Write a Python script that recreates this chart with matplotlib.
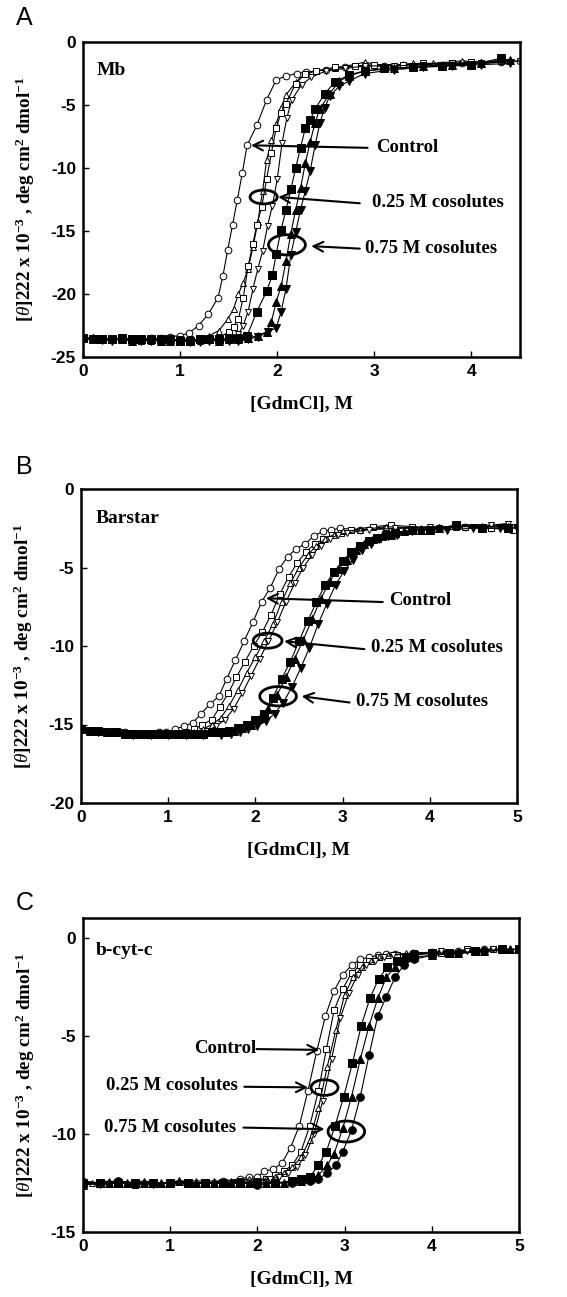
import matplotlib
matplotlib.use("Agg")
import matplotlib.pyplot as plt
from matplotlib.patches import Ellipse

plt.rcParams['font.family'] = ['Liberation Serif', 'DejaVu Serif']
plt.rcParams['mathtext.fontset'] = 'custom'
plt.rcParams['mathtext.rm'] = 'Liberation Serif:bold'
plt.rcParams['mathtext.it'] = 'Liberation Serif:italic'
plt.rcParams['mathtext.bf'] = 'Liberation Serif:bold'

# ---------------- Panel A : Mb ----------------
A_ctrl_x = [0.0,0.1,0.2,0.3,0.4,0.5,0.6,0.7,0.8,0.9,1.0,1.09,1.19,1.29,1.39,1.44,1.49,1.54,1.59,1.64,1.69,1.79,1.89,1.99,2.09,2.2,2.3,2.5,2.7,2.9,3.1,3.3,3.5,3.7,3.9,4.1,4.3,4.5]
A_ctrl_y = [-23.5,-23.5,-23.6,-23.6,-23.5,-23.6,-23.6,-23.5,-23.5,-23.4,-23.3,-23.1,-22.5,-21.6,-20.3,-18.6,-16.5,-14.5,-12.5,-10.4,-8.2,-6.6,-4.6,-3.0,-2.7,-2.5,-2.4,-2.2,-2.0,-1.9,-1.9,-1.8,-1.8,-1.8,-1.7,-1.7,-1.6,-1.5]
A_tu_x = [0.0,0.1,0.2,0.3,0.4,0.5,0.6,0.7,0.8,0.9,1.0,1.1,1.2,1.3,1.4,1.49,1.55,1.6,1.65,1.7,1.75,1.8,1.85,1.89,1.94,1.99,2.04,2.09,2.19,2.29,2.4,2.6,2.9,3.1,3.4,3.6,3.9,4.1,4.4]
A_tu_y = [-23.5,-23.6,-23.5,-23.6,-23.6,-23.5,-23.6,-23.6,-23.6,-23.7,-23.6,-23.6,-23.7,-23.3,-22.9,-22.0,-21.2,-20.0,-19.1,-18.0,-16.3,-14.3,-11.8,-9.4,-7.8,-6.5,-5.2,-4.2,-3.2,-2.5,-2.3,-2.1,-1.6,-1.9,-1.7,-1.7,-1.5,-1.6,-1.4]
A_sq_x = [0.0,0.1,0.2,0.3,0.4,0.5,0.6,0.7,0.8,0.9,1.0,1.1,1.2,1.3,1.4,1.5,1.55,1.6,1.65,1.7,1.75,1.79,1.84,1.89,1.94,1.99,2.04,2.09,2.19,2.29,2.4,2.6,2.8,3.0,3.3,3.5,3.8,4.0,4.3]
A_sq_y = [-23.6,-23.6,-23.6,-23.5,-23.6,-23.7,-23.7,-23.7,-23.6,-23.7,-23.6,-23.7,-23.6,-23.6,-23.5,-23.0,-22.6,-22.0,-20.3,-17.8,-16.0,-14.5,-13.1,-10.9,-8.8,-6.8,-5.6,-4.9,-3.3,-2.5,-2.3,-2.0,-1.9,-1.8,-1.8,-1.7,-1.7,-1.6,-1.5]
A_td_x = [0.0,0.1,0.2,0.3,0.4,0.5,0.6,0.7,0.8,0.9,1.0,1.1,1.2,1.3,1.4,1.5,1.6,1.65,1.7,1.75,1.8,1.85,1.9,1.95,2.0,2.05,2.1,2.15,2.25,2.35,2.5,2.7,2.9,3.2,3.5,3.8,4.1,4.3,4.5]
A_td_y = [-23.6,-23.6,-23.7,-23.6,-23.6,-23.5,-23.7,-23.6,-23.7,-23.7,-23.7,-23.6,-23.9,-23.6,-23.6,-23.5,-23.2,-22.5,-21.4,-19.6,-18.0,-16.6,-14.6,-13.0,-10.9,-8.0,-6.0,-4.6,-3.4,-2.8,-2.3,-2.1,-1.9,-1.9,-1.8,-1.7,-1.7,-1.6,-1.5]
A_fsq_x = [0.0,0.1,0.2,0.3,0.4,0.5,0.6,0.7,0.8,0.9,1.0,1.1,1.2,1.3,1.4,1.5,1.6,1.69,1.79,1.89,1.95,1.99,2.04,2.09,2.14,2.19,2.24,2.29,2.34,2.39,2.49,2.59,2.74,2.9,3.1,3.4,3.7,4.0,4.3]
A_fsq_y = [-23.5,-23.6,-23.6,-23.6,-23.5,-23.6,-23.6,-23.6,-23.6,-23.6,-23.7,-23.7,-23.6,-23.6,-23.6,-23.5,-23.5,-23.3,-21.4,-19.8,-18.5,-16.8,-14.9,-13.3,-11.7,-10.0,-8.4,-6.8,-6.2,-5.3,-4.1,-3.2,-2.6,-2.3,-2.1,-2.0,-1.9,-1.8,-1.3]
A_ftu_x = [0.0,0.1,0.2,0.3,0.4,0.5,0.6,0.7,0.8,0.9,1.0,1.1,1.2,1.3,1.4,1.5,1.6,1.7,1.8,1.89,1.94,1.99,2.04,2.09,2.14,2.19,2.24,2.29,2.34,2.39,2.44,2.54,2.64,2.74,2.9,3.2,3.5,3.8,4.1,4.4]
A_ftu_y = [-23.5,-23.5,-23.6,-23.6,-23.6,-23.7,-23.6,-23.6,-23.7,-23.7,-23.7,-23.7,-23.6,-23.6,-23.7,-23.6,-23.6,-23.5,-23.3,-23.0,-22.2,-20.6,-19.4,-17.4,-15.2,-13.3,-11.6,-9.6,-7.9,-6.4,-5.3,-4.1,-3.1,-2.7,-2.3,-2.1,-1.9,-1.8,-1.7,-1.4]
A_ftd_x = [0.0,0.1,0.2,0.3,0.4,0.5,0.6,0.7,0.8,0.9,1.0,1.1,1.2,1.3,1.4,1.5,1.6,1.7,1.8,1.9,1.99,2.04,2.09,2.14,2.19,2.24,2.29,2.34,2.39,2.44,2.49,2.54,2.64,2.74,2.9,3.2,3.5,3.8,4.1,4.4]
A_ftd_y = [-23.6,-23.6,-23.6,-23.7,-23.6,-23.6,-23.7,-23.7,-23.7,-23.6,-23.7,-23.8,-23.7,-23.7,-23.7,-23.7,-23.7,-23.6,-23.4,-23.0,-22.7,-21.4,-19.6,-16.9,-15.1,-13.3,-11.8,-10.2,-8.2,-6.4,-5.2,-4.3,-3.5,-3.1,-2.5,-2.2,-2.0,-1.9,-1.8,-1.7]

# ---------------- Panel B : Barstar ----------------
B_ctrl_x = [0.0,0.1,0.2,0.3,0.4,0.5,0.6,0.7,0.8,0.9,0.98,1.08,1.18,1.28,1.38,1.48,1.58,1.67,1.77,1.87,1.97,2.07,2.17,2.27,2.37,2.47,2.57,2.67,2.77,2.87,2.97,3.2,3.5,3.8,4.1,4.4,4.7,5.0]
B_ctrl_y = [-15.3,-15.4,-15.4,-15.5,-15.5,-15.5,-15.6,-15.6,-15.6,-15.5,-15.5,-15.3,-15.1,-14.9,-14.3,-13.7,-13.2,-12.1,-10.9,-9.7,-8.5,-7.2,-6.3,-5.1,-4.3,-3.8,-3.5,-3.0,-2.7,-2.6,-2.5,-2.6,-2.5,-2.5,-2.5,-2.4,-2.5,-2.5]
B_sq_x = [0.0,0.1,0.3,0.5,0.6,0.8,1.0,1.1,1.2,1.3,1.39,1.5,1.59,1.69,1.78,1.88,1.98,2.08,2.18,2.28,2.38,2.48,2.58,2.68,2.78,2.88,2.98,3.1,3.35,3.55,3.8,4.1,4.4,4.7,4.95]
B_sq_y = [-15.3,-15.4,-15.5,-15.6,-15.6,-15.6,-15.6,-15.6,-15.5,-15.3,-15.0,-14.7,-13.9,-13.0,-12.0,-11.0,-10.0,-9.1,-8.0,-6.7,-5.6,-4.7,-4.0,-3.5,-3.2,-2.9,-2.8,-2.6,-2.4,-2.3,-2.4,-2.5,-2.4,-2.5,-2.6]
B_tu_x = [0.0,0.2,0.4,0.6,0.8,1.0,1.2,1.3,1.4,1.5,1.6,1.7,1.8,1.9,2.0,2.1,2.2,2.3,2.4,2.5,2.6,2.7,2.8,2.9,3.0,3.2,3.5,3.9,4.3,4.6,4.9]
B_tu_y = [-15.3,-15.4,-15.5,-15.6,-15.6,-15.6,-15.6,-15.5,-15.3,-15.0,-14.6,-13.8,-12.8,-11.7,-10.7,-9.7,-8.6,-7.2,-6.0,-5.0,-4.2,-3.6,-3.2,-2.9,-2.7,-2.6,-2.4,-2.5,-2.4,-2.4,-2.3]
B_td_x = [0.0,0.25,0.45,0.65,0.85,1.05,1.25,1.35,1.45,1.55,1.65,1.75,1.85,1.95,2.05,2.15,2.25,2.35,2.45,2.55,2.65,2.75,2.85,2.95,3.05,3.3,3.6,4.0,4.3,4.7,4.9]
B_td_y = [-15.3,-15.5,-15.5,-15.7,-15.6,-15.7,-15.7,-15.6,-15.4,-15.1,-14.7,-14.0,-13.0,-11.9,-10.8,-9.7,-8.5,-7.2,-6.0,-5.0,-4.2,-3.6,-3.2,-2.9,-2.8,-2.6,-2.5,-2.4,-2.4,-2.3,-2.2]
B_fsq_x = [0.0,0.1,0.2,0.3,0.4,0.5,0.6,0.7,0.8,0.9,1.0,1.1,1.2,1.3,1.4,1.5,1.6,1.7,1.8,1.9,2.0,2.1,2.2,2.3,2.4,2.5,2.6,2.7,2.8,2.9,3.0,3.1,3.2,3.3,3.4,3.5,3.6,3.8,4.0,4.3,4.6,4.9]
B_fsq_y = [-15.3,-15.4,-15.4,-15.5,-15.5,-15.6,-15.6,-15.6,-15.6,-15.6,-15.6,-15.6,-15.6,-15.6,-15.6,-15.5,-15.5,-15.4,-15.2,-15.0,-14.7,-14.3,-13.3,-12.1,-11.0,-9.7,-8.4,-7.2,-6.1,-5.3,-4.6,-4.0,-3.6,-3.3,-3.1,-2.9,-2.8,-2.6,-2.6,-2.3,-2.5,-2.5]
B_ftu_x = [0.0,0.15,0.35,0.55,0.75,0.95,1.15,1.35,1.55,1.65,1.75,1.85,1.95,2.05,2.15,2.25,2.35,2.45,2.55,2.65,2.75,2.85,2.95,3.05,3.15,3.25,3.35,3.45,3.55,3.7,3.9,4.1,4.3,4.6,4.9]
B_ftu_y = [-15.3,-15.4,-15.5,-15.6,-15.6,-15.6,-15.6,-15.6,-15.5,-15.5,-15.4,-15.2,-15.0,-14.6,-14.0,-13.1,-12.0,-10.8,-9.6,-8.3,-7.0,-5.9,-5.1,-4.5,-3.9,-3.5,-3.2,-3.0,-2.9,-2.7,-2.6,-2.5,-2.3,-2.4,-2.4]
B_ftd_x = [0.0,0.2,0.4,0.6,0.8,1.0,1.2,1.4,1.6,1.72,1.82,1.92,2.02,2.12,2.22,2.32,2.42,2.52,2.62,2.72,2.82,2.92,3.02,3.12,3.22,3.32,3.42,3.52,3.62,3.8,4.0,4.2,4.5,4.8,5.0]
B_ftd_y = [-15.3,-15.5,-15.5,-15.7,-15.7,-15.7,-15.7,-15.7,-15.7,-15.6,-15.5,-15.3,-15.1,-14.8,-14.3,-13.6,-12.6,-11.4,-10.1,-8.6,-7.3,-6.1,-5.2,-4.5,-3.9,-3.5,-3.2,-3.0,-2.9,-2.7,-2.6,-2.6,-2.5,-2.5,-2.5]

# ---------------- Panel C : b-cyt-c ----------------
C_ctrl_x = [0.0,0.2,0.4,0.6,0.8,1.0,1.2,1.4,1.6,1.8,1.9,2.0,2.08,2.18,2.28,2.38,2.48,2.58,2.68,2.78,2.88,2.98,3.08,3.18,3.28,3.38,3.48,3.58,3.78,4.0,4.3,4.6,5.0]
C_ctrl_y = [-12.4,-12.5,-12.4,-12.5,-12.5,-12.5,-12.5,-12.5,-12.4,-12.3,-12.2,-12.2,-11.9,-11.8,-11.5,-10.7,-9.6,-7.8,-5.8,-4.0,-2.7,-1.9,-1.4,-1.1,-1.0,-0.9,-0.85,-0.85,-0.8,-0.75,-0.7,-0.6,-0.6]
C_sq_x = [0.0,0.2,0.4,0.6,0.8,1.0,1.2,1.4,1.6,1.8,2.0,2.1,2.2,2.3,2.4,2.5,2.6,2.7,2.79,2.88,2.98,3.08,3.18,3.28,3.4,3.6,3.8,4.1,4.4,4.7,5.0]
C_sq_y = [-12.5,-12.5,-12.5,-12.6,-12.5,-12.5,-12.5,-12.5,-12.5,-12.5,-12.4,-12.3,-12.1,-11.9,-11.6,-10.9,-9.6,-7.8,-5.7,-3.7,-2.6,-1.8,-1.4,-1.2,-1.0,-0.9,-0.8,-0.8,-0.6,-0.6,-0.6]
C_tu_x = [0.0,0.1,0.3,0.5,0.7,0.9,1.1,1.3,1.5,1.7,1.9,2.1,2.2,2.3,2.4,2.5,2.6,2.7,2.8,2.9,3.0,3.1,3.2,3.3,3.4,3.5,3.7,4.0,4.3,4.6,4.9]
C_tu_y = [-12.6,-12.5,-12.4,-12.5,-12.4,-12.5,-12.4,-12.4,-12.4,-12.4,-12.3,-12.3,-12.2,-12.0,-11.7,-11.2,-10.3,-8.7,-6.6,-4.7,-2.9,-2.0,-1.5,-1.2,-1.0,-0.9,-0.8,-0.8,-0.7,-0.6,-0.6]
C_td_x = [0.0,0.2,0.4,0.6,0.8,1.0,1.2,1.4,1.6,1.8,2.0,2.15,2.25,2.35,2.45,2.55,2.65,2.75,2.85,2.95,3.05,3.15,3.25,3.35,3.45,3.55,3.8,4.1,4.4,4.7,5.0]
C_td_y = [-12.5,-12.6,-12.5,-12.5,-12.6,-12.5,-12.5,-12.5,-12.5,-12.4,-12.4,-12.3,-12.2,-12.0,-11.7,-11.1,-10.0,-8.3,-6.2,-4.1,-2.8,-1.9,-1.4,-1.2,-1.0,-0.9,-0.8,-0.7,-0.7,-0.6,-0.6]
C_fsq_x = [0.0,0.2,0.4,0.6,0.8,1.0,1.2,1.4,1.6,1.8,2.0,2.2,2.4,2.5,2.6,2.7,2.79,2.89,2.99,3.09,3.19,3.29,3.39,3.49,3.6,3.7,3.8,4.0,4.2,4.5,4.8,5.0]
C_fsq_y = [-12.5,-12.5,-12.5,-12.5,-12.5,-12.5,-12.5,-12.5,-12.5,-12.5,-12.5,-12.5,-12.4,-12.3,-12.2,-11.6,-10.9,-9.6,-8.1,-6.4,-4.5,-3.1,-2.1,-1.5,-1.2,-1.0,-0.9,-0.8,-0.8,-0.7,-0.6,-0.6]
C_ftu_x = [0.0,0.3,0.5,0.7,0.9,1.1,1.3,1.5,1.7,1.9,2.1,2.3,2.5,2.6,2.7,2.8,2.88,2.98,3.08,3.18,3.28,3.38,3.48,3.58,3.68,3.8,4.0,4.3,4.6,4.9]
C_ftu_y = [-12.6,-12.5,-12.5,-12.5,-12.5,-12.4,-12.5,-12.5,-12.5,-12.5,-12.5,-12.5,-12.4,-12.3,-12.1,-11.6,-11.0,-9.7,-8.1,-6.2,-4.5,-3.1,-2.0,-1.5,-1.2,-1.0,-0.9,-0.8,-0.7,-0.6]
C_fci_x = [0.0,0.2,0.4,0.6,0.8,1.0,1.2,1.4,1.6,1.8,2.0,2.2,2.4,2.6,2.7,2.8,2.9,2.98,3.08,3.18,3.28,3.38,3.48,3.58,3.68,3.8,4.0,4.3,4.6,5.0]
C_fci_y = [-12.5,-12.5,-12.4,-12.5,-12.5,-12.5,-12.5,-12.5,-12.5,-12.5,-12.6,-12.5,-12.5,-12.4,-12.3,-12.0,-11.6,-10.9,-9.8,-8.1,-6.0,-4.0,-3.0,-2.0,-1.4,-1.1,-0.9,-0.8,-0.7,-0.6]

# tick labels / limits
A_xticks = [0, 1, 2, 3, 4]
A_yticks = [-25, -20, -15, -10, -5, 0]
B_xticks = [0, 1, 2, 3, 4, 5]
B_yticks = [-20, -15, -10, -5, 0]
C_xticks = [0, 1, 2, 3, 4, 5]
C_yticks = [-15, -10, -5, 0]

W, H = 567, 1297
fig = plt.figure(figsize=(W / 100, H / 100), dpi=100)


def add_axes(left, right, top, bottom):
    return fig.add_axes([left / W, 1 - bottom / H, (right - left) / W, (bottom - top) / H])


OPEN = dict(mfc='white', mec='black')
FILL = dict(mfc='black', mec='black')


def series(ax, x, y, marker, filled, ms):
    st = FILL if filled else OPEN
    ax.plot(x, y, '-', color='black', lw=0.8, marker=marker, ms=ms, mew=0.7, **st)


def style(ax, xlim, ylim, xt, yt):
    ax.set_xlim(*xlim)
    ax.set_ylim(*ylim)
    ax.set_xticks(xt)
    ax.set_yticks(yt)
    ax.set_xticklabels([str(v) for v in xt])
    ax.set_yticklabels([str(v) for v in yt])
    for lab in ax.get_xticklabels() + ax.get_yticklabels():
        lab.set_fontfamily('Liberation Sans')
        lab.set_fontweight('bold')
        lab.set_fontsize(12.5)
    ax.tick_params(direction='in', length=4, width=1.0, pad=5)
    for s in ax.spines.values():
        s.set_linewidth(1.8)
    ax.set_xlabel('[GdmCl], M', fontsize=14, fontweight='bold')
    ax.set_ylabel(r'[$\mathit{\theta}$]222 x 10$^{-3}$ , deg cm$^{2}$ dmol$^{-1}$',
                  fontsize=13.8, fontweight='bold')
    ax.xaxis.set_label_coords(0.5, -0.125)
    ax.yaxis.set_label_coords(-0.105, 0.5)


def annotate(ax, text, txy, start, tip, ha='left'):
    ax.text(txy[0], txy[1], text, fontsize=13.5, fontweight='bold', ha=ha, va='center')
    ax.annotate('', xy=tip, xytext=start,
                arrowprops=dict(arrowstyle='->,head_length=0.7,head_width=0.35', lw=1.5,
                                color='black', shrinkA=0, shrinkB=0))


def ellipse(ax, c, w, h):
    ax.add_patch(Ellipse(c, w, h, fill=False, lw=2.0, ec='black', zorder=5))


MS_O = 4.8
MS_F = 5.5

# ---- Panel A ----
axA = add_axes(83, 520, 42, 357)
series(axA, A_ctrl_x, A_ctrl_y, 'o', False, MS_O)
series(axA, A_tu_x, A_tu_y, '^', False, MS_O)
series(axA, A_sq_x, A_sq_y, 's', False, MS_O)
series(axA, A_td_x, A_td_y, 'v', False, MS_O)
series(axA, A_fsq_x, A_fsq_y, 's', True, MS_F)
series(axA, A_ftu_x, A_ftu_y, '^', True, MS_F)
series(axA, A_ftd_x, A_ftd_y, 'v', True, MS_F)
style(axA, (0, 4.5), (-25, 0), A_xticks, A_yticks)
axA.text(0.14, -2.3, 'Mb', fontsize=14, fontweight='bold', ha='left', va='center')
annotate(axA, 'Control', (3.02, -8.4), (2.93, -8.4), (1.73, -8.2))
annotate(axA, '0.25 M cosolutes', (2.98, -12.7), (2.85, -12.8), (2.01, -12.3))
annotate(axA, '0.75 M cosolutes', (2.90, -16.4), (2.85, -16.4), (2.35, -16.2))
ellipse(axA, (1.86, -12.3), 0.28, 1.1)
ellipse(axA, (2.10, -16.1), 0.38, 1.6)
fig.text(16 / W, 1 - 18 / H, 'A', fontsize=18, family='Liberation Sans', va='center', ha='left')

# ---- Panel B ----
axB = add_axes(81, 517, 489, 803)
series(axB, B_ctrl_x, B_ctrl_y, 'o', False, MS_O)
series(axB, B_sq_x, B_sq_y, 's', False, MS_O)
series(axB, B_tu_x, B_tu_y, '^', False, MS_O)
series(axB, B_td_x, B_td_y, 'v', False, MS_O)
series(axB, B_fsq_x, B_fsq_y, 's', True, MS_F)
series(axB, B_ftu_x, B_ftu_y, '^', True, MS_F)
series(axB, B_ftd_x, B_ftd_y, 'v', True, MS_F)
style(axB, (0, 5), (-20, 0), B_xticks, B_yticks)
axB.text(0.17, -1.9, 'Barstar', fontsize=14, fontweight='bold', ha='left', va='center')
annotate(axB, 'Control', (3.53, -7.1), (3.46, -7.2), (2.12, -6.96))
annotate(axB, '0.25 M cosolutes', (3.32, -10.1), (3.25, -10.2), (2.33, -9.7))
annotate(axB, '0.75 M cosolutes', (3.15, -13.55), (3.08, -13.6), (2.53, -13.2))
ellipse(axB, (2.14, -9.66), 0.33, 0.96)
ellipse(axB, (2.26, -13.2), 0.42, 1.23)
fig.text(16 / W, 1 - 467 / H, 'B', fontsize=18, family='Liberation Sans', va='center', ha='left')

# ---- Panel C ----
axC = add_axes(83, 519, 918, 1232)
series(axC, C_ctrl_x, C_ctrl_y, 'o', False, MS_O)
series(axC, C_sq_x, C_sq_y, 's', False, MS_O)
series(axC, C_tu_x, C_tu_y, '^', False, MS_O)
series(axC, C_td_x, C_td_y, 'v', False, MS_O)
series(axC, C_fsq_x, C_fsq_y, 's', True, MS_F)
series(axC, C_ftu_x, C_ftu_y, '^', True, MS_F)
series(axC, C_fci_x, C_fci_y, 'o', True, MS_F)
style(axC, (0, 5), (-15, 1), C_xticks, C_yticks)
axC.text(0.15, -0.65, 'b-cyt-c', fontsize=14, fontweight='bold', ha='left', va='center')
annotate(axC, 'Control', (1.99, -5.64), (1.99, -5.68), (2.71, -5.72), ha='right')
annotate(axC, '0.25 M cosolutes', (1.78, -7.56), (1.85, -7.6), (2.58, -7.63), ha='right')
annotate(axC, '0.75 M cosolutes', (1.76, -9.66), (1.84, -9.68), (2.77, -9.76), ha='right')
ellipse(axC, (2.77, -7.64), 0.31, 0.8)
ellipse(axC, (3.02, -9.88), 0.42, 1.07)
fig.text(16 / W, 1 - 903 / H, 'C', fontsize=18, family='Liberation Sans', va='center', ha='left')

fig.savefig('out.png', dpi=100)
